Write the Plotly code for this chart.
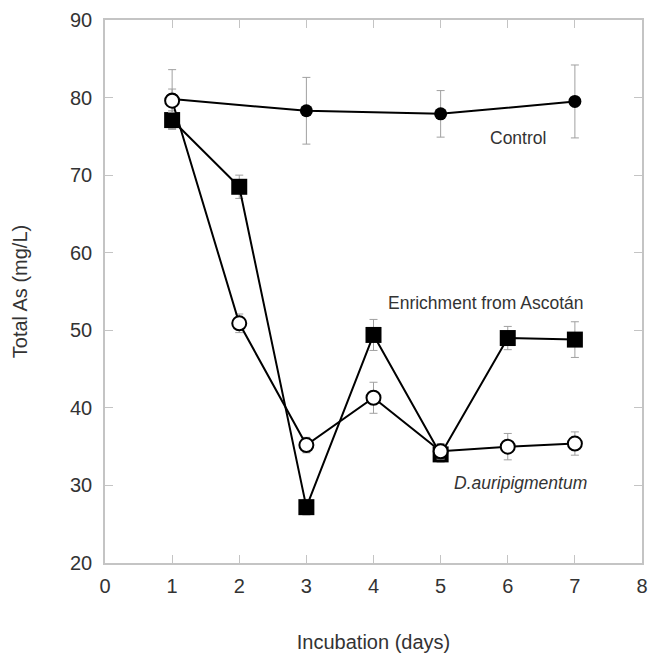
import plotly.graph_objects as go

# Incubation time (days)
days = [1, 2, 3, 4, 5, 6, 7]
control_days = [1, 3, 5, 7]

# Total As (mg/L) for each treatment
control = [79.8, 78.3, 77.9, 79.5]
control_err = [3.8, 4.3, 3.0, 4.7]

enrichment = [77.1, 68.5, 27.2, 49.4, 34.0, 49.0, 48.8]
enrichment_err = [1.2, 1.5, 1.0, 2.0, 1.0, 1.5, 2.3]

auripigmentum = [79.6, 50.9, 35.2, 41.3, 34.4, 35.0, 35.4]
auripigmentum_err = [1.5, 1.2, 1.0, 2.0, 1.0, 1.7, 1.5]

x_ticks = [0, 1, 2, 3, 4, 5, 6, 7, 8]
y_ticks = [20, 30, 40, 50, 60, 70, 80, 90]

FONT = "Liberation Sans, Arial, Helvetica, sans-serif"
TEXT = "#333333"
AXIS = "#c4c4c4"
ERR = "#a0a0a0"

fig = go.Figure()

fig.add_trace(go.Scatter(
    x=control_days, y=control, mode="lines+markers",
    line=dict(color="black", width=2),
    marker=dict(symbol="circle", size=13, color="black"),
    error_y=dict(type="data", array=control_err, color=ERR, thickness=1, width=4),
    name="Control",
))

fig.add_trace(go.Scatter(
    x=days, y=enrichment, mode="lines+markers",
    line=dict(color="black", width=2),
    marker=dict(symbol="square", size=16, color="black"),
    error_y=dict(type="data", array=enrichment_err, color=ERR, thickness=1, width=4),
    name="Enrichment from Ascotán",
))

fig.add_trace(go.Scatter(
    x=days, y=auripigmentum, mode="lines+markers",
    line=dict(color="black", width=2),
    marker=dict(symbol="circle", size=14, color="white",
                line=dict(color="black", width=2)),
    error_y=dict(type="data", array=auripigmentum_err, color=ERR, thickness=1, width=4),
    name="D.auripigmentum",
))

annotations = [
    dict(x=6.15, y=74.8, text="Control"),
    dict(x=5.67, y=53.5, text="Enrichment from Ascotán"),
    dict(x=6.19, y=30.3, text="<i>D.auripigmentum</i>"),
]
for a in annotations:
    a.update(xref="x", yref="y", showarrow=False, xanchor="center", yanchor="middle",
             font=dict(family=FONT, size=17.5, color=TEXT))

axis_common = dict(
    showline=True, linecolor=AXIS, linewidth=1.5, mirror="ticks",
    ticks="inside", ticklen=8, tickcolor=AXIS, tickwidth=1,
    showgrid=False, zeroline=False,
    tickfont=dict(family=FONT, size=20, color=TEXT),
)

fig.update_layout(
    width=653, height=656,
    margin=dict(l=105, r=5, t=20, b=93),
    paper_bgcolor="white", plot_bgcolor="white",
    showlegend=False,
    annotations=annotations,
    xaxis=dict(range=[0, 8], tickvals=x_ticks, ticklabelstandoff=4,
               title=dict(text="Incubation (days)", standoff=39,
                          font=dict(family=FONT, size=20, color=TEXT)),
               **axis_common),
    yaxis=dict(range=[20, 90], tickvals=y_ticks, ticklabelstandoff=7,
               title=dict(text="Total As (mg/L)", standoff=37,
                          font=dict(family=FONT, size=20, color=TEXT)),
               **axis_common),
)

fig.write_html("out.html")
